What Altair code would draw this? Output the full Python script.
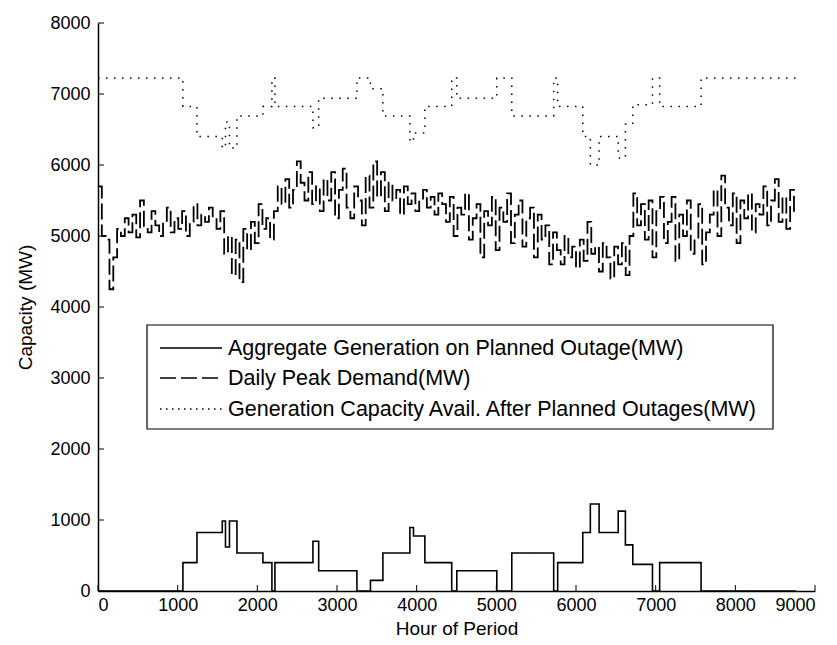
import altair as alt
import pandas as pd

SERIES = [
    "Aggregate Generation on Planned Outage(MW)",
    "Daily Peak Demand(MW)",
    "Generation Capacity Avail. After Planned Outages(MW)",
]

# breakpoints (hour at which a new level starts) shared by the outage / availability steps
step_hours = [0, 1066, 1242, 1560, 1600, 1650, 1744, 2070, 2183, 2221, 2698, 2770,
              3250, 3420, 3576, 3915, 3960, 4103, 4440, 4504, 5006, 5194, 5720, 5770,
              6085, 6180, 6290, 6530, 6620, 6713, 6960, 7050, 7570, 8760]
outage_mw = [0, 400, 825, 985, 620, 985, 535, 400, 0, 400, 700, 285,
             0, 150, 535, 895, 775, 400, 0, 285, 0, 535, 0, 400,
             825, 1225, 825, 1125, 650, 375, 0, 400, 0, 0]
avail_mw = [7225, 6825, 6400, 6240, 6605, 6240, 6690, 6825, 7225, 6825, 6525, 6940,
            7225, 7075, 6690, 6330, 6450, 6825, 7225, 6940, 7225, 6690, 7225, 6825,
            6400, 6000, 6400, 6100, 6575, 6850, 7225, 6825, 7225, 7225]

# daily peak demand, one reading every 48 hours from hour 0
demand_step = 48
demand_end = 8760
demand_mw = [
    5700, 5000, 4950, 4250, 4700, 5100, 5000, 5250, 5050, 5300,
    4980, 5500, 5100, 5050, 5350, 5150, 5000, 5200, 5400, 5050,
    5250, 5100, 5350, 5000, 5200, 5450, 5150, 5300, 5200, 5400,
    5250, 5100, 5350, 4750, 5000, 4450, 4950, 4350, 5100, 4800,
    5200, 4900, 5450, 5100, 5250, 4950, 5350, 5700, 5450, 5800,
    5400, 5650, 6050, 5750, 5500, 5900, 5450, 5700, 5350, 5800,
    5500, 5900, 5250, 5650, 5950, 5400, 5250, 5700, 5500, 5150,
    5850, 5400, 6050, 5550, 5900, 5350, 5750, 5500, 5650, 5300,
    5700, 5450, 5600, 5350, 5500, 5650, 5400, 5550, 5300, 5600,
    5450, 5200, 5550, 5000, 5400, 5300, 5600, 4950, 5250, 5450,
    4700, 5350, 5150, 5550, 4800, 5400, 5200, 5600, 4900, 5300,
    5500, 4850, 5250, 5400, 4700, 5300, 4950, 5150, 4600, 5050,
    4800, 4600, 5000, 4700, 4850, 4550, 4950, 4650, 5200, 4750,
    4850, 4500, 4900, 4700, 4400, 4850, 4600, 4900, 4450, 5000,
    5600, 5150, 5450, 4950, 5500, 4700, 5350, 5550, 4900, 5200,
    5550, 4650, 5300, 5000, 5500, 4750, 4950, 5450, 4600, 5050,
    5300, 5650, 5000, 5850, 5400, 5150, 5600, 4900, 5500, 5250,
    5600, 5050, 5450, 5300, 5700, 5150, 5500, 5800, 5200, 5550,
    5100, 5650, 5300,
]

x_ticks = list(range(0, 10000, 1000))
y_ticks = list(range(0, 9000, 1000))

df_out = pd.DataFrame({"hour": step_hours, "mw": outage_mw})
df_avail = pd.DataFrame({"hour": step_hours, "mw": avail_mw})
dem_hours = [i * demand_step for i in range(len(demand_mw))] + [demand_end]
df_dem = pd.DataFrame({"hour": dem_hours, "mw": demand_mw + [demand_mw[-1]]})

FONT = "Liberation Sans"
W, H = 717, 568

xscale = alt.Scale(domain=[0, 9000], nice=False, zero=False)
yscale = alt.Scale(domain=[0, 8000], nice=False, zero=False)
xaxis = alt.Axis(values=x_ticks, format="d", title="Hour of Period", titlePadding=5, labelPadding=5)
yaxis = alt.Axis(values=y_ticks, format="d", title="Capacity (MW)", titlePadding=14, labelPadding=8)


def step_line(df, dash, width):
    return alt.Chart(df).mark_line(interpolate="step-after", strokeWidth=width, color="black",
                                   strokeDash=dash).encode(
        x=alt.X("hour:Q", scale=xscale, axis=xaxis),
        y=alt.Y("mw:Q", scale=yscale, axis=yaxis),
    )


outage_layer = step_line(df_out, [1, 0], 1.6)
demand_layer = step_line(df_dem, [16, 5], 1.8)
avail_layer = step_line(df_avail, [1.5, 6.5], 1.5)

xt = alt.Chart(pd.DataFrame({"t": x_ticks})).mark_rule(color="black", strokeWidth=1).encode(
    x=alt.X("t:Q", scale=xscale, axis=xaxis),
    y=alt.value(H), y2=alt.value(H - 6),
)
yt = alt.Chart(pd.DataFrame({"t": y_ticks})).mark_rule(color="black", strokeWidth=1).encode(
    y=alt.Y("t:Q", scale=yscale, axis=yaxis),
    x=alt.value(0), x2=alt.value(6),
)

# legend box, drawn by hand
one = pd.DataFrame({"k": [0]})
LX0, LX1, LY0, LY1 = 49, 675, 302, 406
SX0, SX1, TX = 62, 124, 130
ROWS = [325, 355, 386]
DASHES = [[1, 0], [16, 5], [1.5, 4.5]]

legend_layers = [
    alt.Chart(one).mark_rect(fill="white", stroke="black", strokeWidth=1.2).encode(
        x=alt.value(LX0), x2=alt.value(LX1), y=alt.value(LY0), y2=alt.value(LY1))
]
for name, yy, dash in zip(SERIES, ROWS, DASHES):
    legend_layers.append(
        alt.Chart(one).mark_rule(color="black", strokeWidth=1.5, strokeDash=dash).encode(
            x=alt.value(SX0), x2=alt.value(SX1), y=alt.value(yy)))
    legend_layers.append(
        alt.Chart(one).mark_text(align="left", baseline="middle", font=FONT, fontSize=21.5,
                                 color="black").encode(
            x=alt.value(TX), y=alt.value(yy + 1), text=alt.value(name)))

chart = alt.layer(avail_layer, demand_layer, outage_layer, xt, yt, *legend_layers).properties(
    width=W, height=H,
    background="white",
    autosize=alt.AutoSizeParams(type="none"),
    padding={"left": 98, "top": 23, "right": 22, "bottom": 54},
).configure_view(stroke=None).configure_axis(
    grid=False, ticks=False, domainColor="black", domainWidth=1.5,
    labelFont=FONT, labelFontSize=18, labelColor="black",
    titleFont=FONT, titleFontSize=19, titleFontWeight="normal", titleColor="black",
)

chart.save("out.html", embed_options={"renderer": "svg", "actions": False})
